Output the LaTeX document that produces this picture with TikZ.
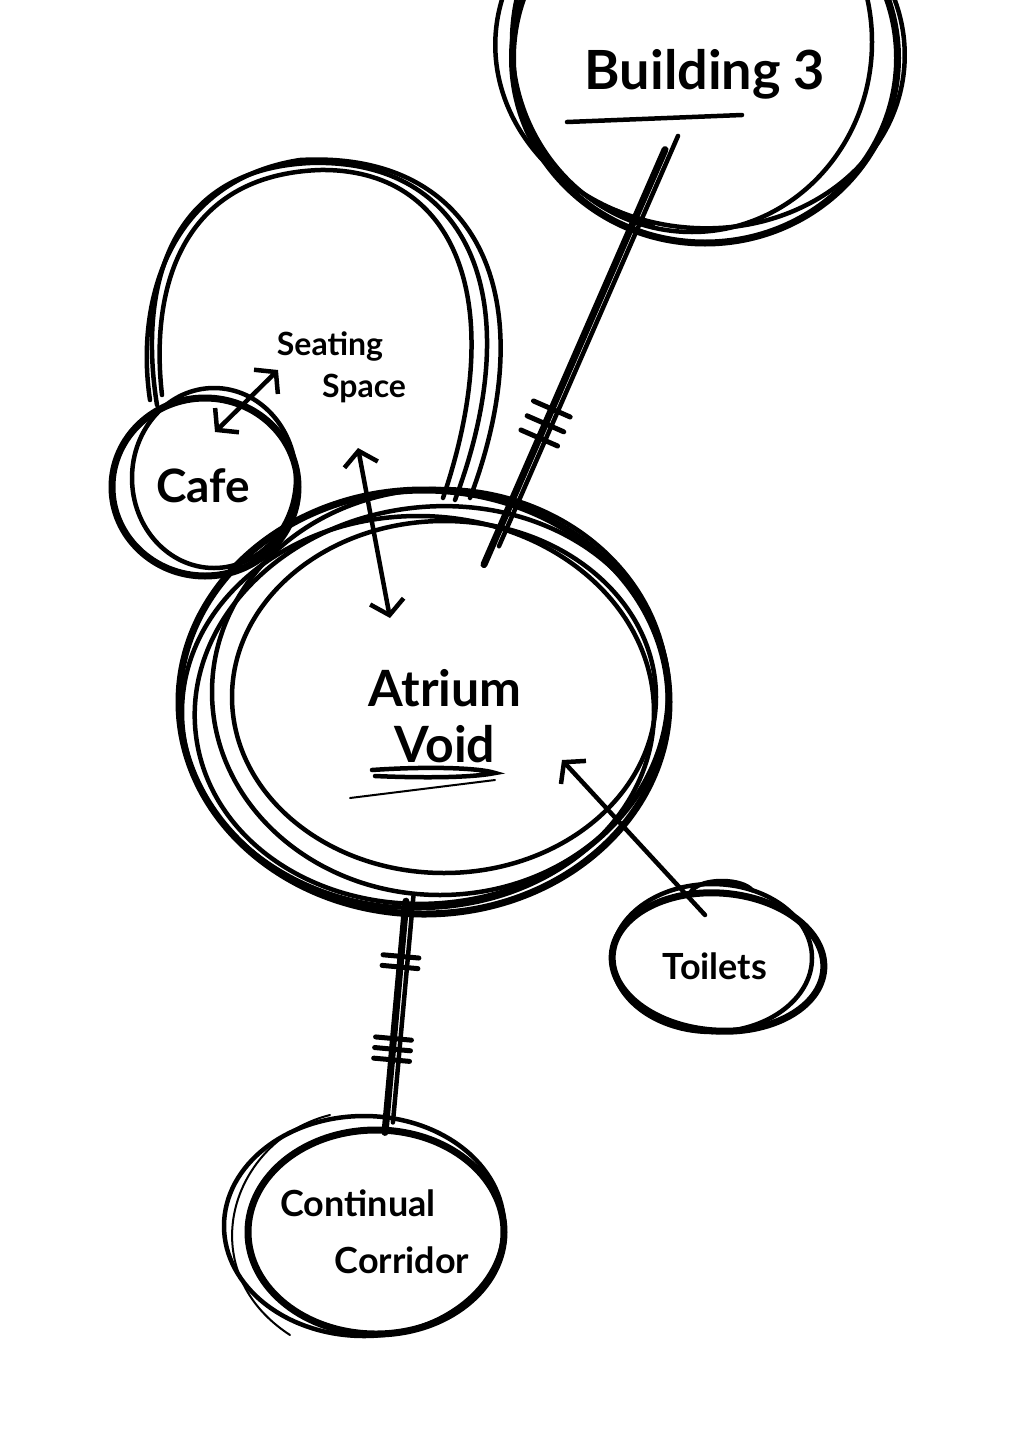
\documentclass[tikz,border=0pt]{standalone}
\usepackage{fontspec}
\setmainfont{Lato}
\usetikzlibrary{calc,positioning,arrows.meta,shapes.geometric}

\tikzset{
  bubble/.style={draw,ellipse,line width=7pt,inner sep=0pt},
  pen/.style={line width=4.5pt,line cap=round},
  thinpen/.style={line width=2pt,line cap=round},
  link/.style={line width=7pt,line cap=round},
  tick/.style={line width=5pt,line cap=round},
  arr/.style={line width=4.5pt,line cap=round,-{Straight Barb[length=14pt,width=34pt]}},
  dblarr/.style={line width=4.5pt,line cap=round,{Straight Barb[length=14pt,width=34pt]}-{Straight Barb[length=14pt,width=34pt]}},
  hand/.style={align=center,inner sep=0pt,font=\bfseries},
}

\begin{document}
\begin{tikzpicture}[x=1pt,y=-1pt]
  \useasboundingbox (0,0) rectangle (1028,1454);
  \fill[white] (0,0) rectangle (1028,1454);

  % bubbles
  \node[bubble,minimum width=490pt,minimum height=424pt] (atrium) at (424,702) {};
  \node[bubble,minimum width=186pt,minimum height=178pt] (cafe) at (205,487) {};
  \node[bubble,minimum width=385pt,minimum height=370pt] (bldg) at (705,58) {};
  \node[bubble,minimum width=212pt,minimum height=138pt,rotate=-4] (toilets) at (718,962) {};
  \node[bubble,minimum width=256pt,minimum height=204pt] (corridor) at (376,1232) {};

  % extra strokes
  \draw[pen] (440,692) ellipse [x radius=228pt,y radius=203pt];
  \draw[pen,rotate around={8:(432,705)}] (432,705) ellipse [x radius=238pt,y radius=198pt];
  \draw[pen] (444,697) ellipse [x radius=212pt,y radius=176pt];
  \draw[pen] (418,712) ellipse [x radius=236pt,y radius=196pt];
  \draw[pen] (214,478) ellipse [x radius=82pt,y radius=90pt];
  \draw[pen] (692,42) ellipse [x radius=180pt,y radius=190pt];
  \draw[pen,rotate around={-6:(700,50)}] (700,50) ellipse [x radius=205pt,y radius=178pt];
  \draw[pen] (712,958) ellipse [x radius=100pt,y radius=74pt];
  \draw[pen] (690,895) arc[start angle=180,end angle=20,x radius=32pt,y radius=14pt];
  \draw[pen] (364,1226) ellipse [x radius=140pt,y radius=110pt];
  \draw[thinpen] (330,1115) .. controls (230,1140) and (190,1270) .. (290,1335);

  % seating space outline
  \draw[pen] (157,405) .. controls (140,300) and (160,170) .. (310,163)
             .. controls (470,158) and (530,300) .. (455,500);
  \draw[pen] (150,400) .. controls (135,300) and (170,180) .. (300,160)
             .. controls (480,150) and (545,300) .. (470,498);
  \draw[pen] (162,395) .. controls (150,290) and (180,175) .. (320,170)
             .. controls (455,168) and (510,300) .. (443,498);

  % labels
  \node[hand,font=\bfseries\fontsize{50}{56}\selectfont] (atriumtext) at (445,716) {Atrium\\Void};
  \node[hand,font=\bfseries\fontsize{54}{58}\selectfont] (bldgtext) at (705,74) {Building 3};
  \node[hand,font=\bfseries\fontsize{46}{50}\selectfont] (cafetext) at (203,486) {Cafe};
  \node[hand,font=\bfseries\fontsize{36}{40}\selectfont] (toiletstext) at (715,966) {Toilets};
  \node[hand,font=\bfseries\fontsize{36}{57}\selectfont] (corridortext) at (358,1232) {Continual\\\hspace*{88pt}Corridor};
  \node[hand,font=\bfseries\fontsize{32}{36}\selectfont] (seating) at (330,346) {Seating};
  \node[hand,font=\bfseries\fontsize{32}{36}\selectfont] (space) at (364,388) {Space};

  % underlines
  \draw[pen] (567,122) -- (742,115);
  \draw[pen] (372,770) .. controls (430,766) and (480,768) .. (495,773) .. controls (470,778) and (420,778) .. (375,776);
  \draw[thinpen] (350,798) -- (495,780);

  % connectors
  \draw[link,shorten <=100pt,shorten >=150pt] (bldg.center) -- (atrium.center);
  \draw[pen,shorten <=85pt,shorten >=170pt,transform canvas={xshift=7pt}] (bldg.center) -- (atrium.center);
  \path (bldg.center) -- (atrium.center)
        coordinate[pos=0.25] (bt0)
        coordinate[pos=0.545] (bt1) coordinate[pos=0.568] (bt2) coordinate[pos=0.59] (bt3);
  \foreach \p in {bt0,bt1,bt2,bt3}
    \draw[tick] ($(\p)!20pt!90:(atrium.center)$) -- ($(\p)!20pt!-90:(atrium.center)$);

  \draw[link,shorten <=200pt,shorten >=100pt] (atrium.center) -- (corridor.center);
  \draw[pen,shorten <=195pt,shorten >=110pt,transform canvas={xshift=7pt}] (atrium.center) -- (corridor.center);
  \path (atrium.center) -- (corridor.center)
        coordinate[pos=0.48] (ct1) coordinate[pos=0.50] (ct2)
        coordinate[pos=0.635] (ct3) coordinate[pos=0.655] (ct4) coordinate[pos=0.675] (ct5);
  \foreach \p in {ct1,ct2,ct3,ct4,ct5}
    \draw[tick] ($(\p)!18pt!90:(corridor.center)$) -- ($(\p)!18pt!-90:(corridor.center)$);

  \coordinate (cafetip) at (215,432);
  \coordinate (seattip) at (278,370);
  \draw[dblarr] (cafetip) -- (seattip);
  \coordinate (seatlow) at (358,448);
  \coordinate (atriumtip) at (390,618);
  \draw[dblarr] (seatlow) -- (atriumtip);
  \coordinate (toiletsend) at (705,915);
  \coordinate (voidtip) at (562,760);
  \draw[arr] (toiletsend) -- (voidtip);
\end{tikzpicture}
\end{document}
